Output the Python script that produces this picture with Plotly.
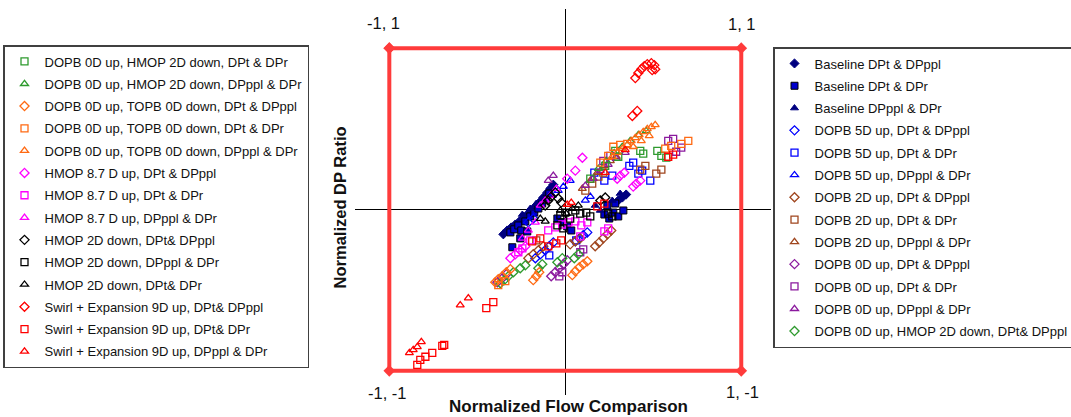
import plotly.graph_objects as go

# ---------------- data (normalized coordinates) ----------------
box_x = [-1, 1, 1, -1, -1]
box_y = [1, 1, -1, -1, 1]

base_dpppl_x = [-0.352, -0.330, -0.307, -0.284, -0.261, -0.239, -0.216, -0.193, -0.170, -0.148, -0.125, -0.102, -0.085, -0.068, 0.301, 0.324, 0.346]
base_dpppl_y = [-0.154, -0.130, -0.111, -0.093, -0.074, -0.056, -0.031, -0.006, 0.019, 0.043, 0.074, 0.105, 0.130, 0.154, 0.056, 0.074, 0.093]
base_dpr_x = [-0.312, -0.290, -0.267, -0.227, -0.199, -0.176, -0.153, -0.131, -0.108, -0.091, -0.250, -0.301, -0.256, -0.216, -0.045, -0.017, 0.011, 0.034, 0.222, 0.250, 0.273, 0.301, 0.330, 0.239, 0.284]
base_dpr_y = [-0.142, -0.123, -0.099, -0.074, -0.043, -0.019, 0.006, 0.037, 0.062, 0.099, -0.130, -0.234, -0.179, -0.136, -0.056, -0.080, -0.105, -0.130, -0.031, -0.056, -0.019, -0.043, -0.006, 0.025, 0.037]
base_pplr_x = [-0.244, -0.199, -0.165, -0.131, 0.170, 0.199, 0.267, 0.312]
base_pplr_y = [-0.031, 0.006, 0.037, 0.068, 0.025, -0.006, 0.056, 0.099]

d5_dpppl_x = [-0.170, -0.142, -0.114, -0.091, -0.068, 0.057, 0.080, 0.102, 0.125, -0.210, -0.182]
d5_dpppl_y = [-0.302, -0.278, -0.253, -0.228, -0.204, -0.197, -0.179, -0.160, -0.142, -0.080, -0.056]
d5_dpr_x = [0.222, 0.267, 0.364, 0.386, 0.415, 0.437, 0.483, -0.091, 0.062, 0.165]
d5_dpr_y = [0.179, 0.210, 0.271, 0.290, 0.222, 0.241, 0.179, -0.284, -0.191, 0.228]
d5_pplr_x = [-0.074, -0.040, -0.011, 0.028, 0.114, 0.142]
d5_pplr_y = [0.086, 0.117, 0.142, 0.179, 0.056, 0.080]

d2_dpppl_x = [-0.210, -0.182, -0.153, -0.125, 0.028, 0.057, 0.085, 0.170, 0.193, 0.216, 0.239, 0.261]
d2_dpppl_y = [-0.302, -0.278, -0.253, -0.228, -0.216, -0.197, -0.179, -0.228, -0.204, -0.179, -0.154, -0.130]
d2_dpr_x = [0.188, 0.216, 0.426, 0.455, 0.517, 0.546, 0.153, 0.114, -0.165]
d2_dpr_y = [0.204, 0.228, 0.247, 0.271, 0.222, 0.247, 0.160, 0.117, -0.191]
d2_pplr_x = [0.097, 0.142, 0.182, 0.222, 0.256, 0.290]
d2_pplr_y = [0.130, 0.179, 0.228, 0.271, 0.302, 0.327]

d0_dpppl_x = [-0.386, -0.358, -0.335, -0.080, -0.057, -0.034, -0.011, 0.011]
d0_dpppl_y = [-0.451, -0.426, -0.401, -0.414, -0.389, -0.364, -0.339, -0.315]
d0_dpr_x = [0.585, 0.613, 0.630, 0.659, 0.216, 0.256, -0.034, -0.017, 0.085, 0.102]
d0_dpr_y = [0.426, 0.438, 0.358, 0.383, 0.302, 0.333, -0.414, -0.389, -0.265, -0.247]
d0_pplr_x = [0.114, 0.159, 0.199, 0.244, 0.290, 0.341, -0.097, -0.068]
d0_pplr_y = [0.148, 0.191, 0.241, 0.278, 0.315, 0.352, 0.179, 0.210]

hm_dpppl_x = [-0.369, -0.347, -0.324, -0.295, -0.256, -0.227, -0.153, -0.131, -0.045, -0.017, 0.051, 0.074]
hm_dpppl_y = [-0.457, -0.438, -0.414, -0.389, -0.364, -0.346, -0.364, -0.339, -0.327, -0.302, -0.302, -0.278]
hm_dpr_x = [0.142, 0.227, 0.284, 0.301, 0.426, 0.443, 0.523, 0.546, 0.574]
hm_dpr_y = [0.191, 0.271, 0.364, 0.327, 0.364, 0.346, 0.364, 0.333, 0.321]
hm_pplr_x = [0.188, 0.233, 0.278, 0.324, 0.369, 0.415, 0.460]
hm_pplr_y = [0.253, 0.302, 0.352, 0.389, 0.426, 0.463, 0.488]

tp_dpppl_x = [-0.398, -0.381, -0.358, -0.335, -0.312, -0.182, -0.165, -0.148, 0.040, 0.057, 0.080, 0.102, 0.125]
tp_dpppl_y = [-0.451, -0.432, -0.414, -0.389, -0.370, -0.438, -0.414, -0.389, -0.407, -0.383, -0.358, -0.339, -0.321]
tp_dpr_x = [0.273, 0.312, 0.352, 0.568, 0.602, 0.659, 0.699, 0.244, 0.199, -0.381, -0.341]
tp_dpr_y = [0.389, 0.401, 0.407, 0.377, 0.395, 0.407, 0.426, 0.333, 0.290, -0.469, -0.444]
tp_pplr_x = [0.267, 0.295, 0.324, 0.352, 0.375, 0.398, 0.420, 0.443, 0.466, 0.489, 0.511, 0.386, 0.432, 0.477]
tp_pplr_y = [0.327, 0.352, 0.377, 0.401, 0.426, 0.444, 0.463, 0.481, 0.500, 0.512, 0.525, 0.389, 0.426, 0.457]

h87_dpppl_x = [0.011, 0.057, 0.097, 0.295, 0.312, 0.335, 0.386, 0.403, 0.426, -0.312, -0.284, -0.256, -0.227]
h87_dpppl_y = [0.191, 0.241, 0.321, 0.191, 0.210, 0.228, 0.142, 0.160, 0.179, -0.302, -0.278, -0.253, -0.228]
h87_dpr_x = [-0.097, -0.057, -0.017, 0.017, 0.057, 0.091, 0.125, 0.085, 0.222, 0.244, -0.199, -0.267, -0.244]
h87_dpr_y = [-0.130, -0.111, -0.093, -0.080, -0.074, -0.099, -0.080, -0.167, -0.136, -0.117, -0.191, -0.265, -0.241]
h87_pplr_x = [-0.142, -0.114, -0.085, -0.051, -0.170, -0.210, -0.244]
h87_pplr_y = [0.025, 0.056, 0.086, 0.130, -0.080, -0.130, -0.179]

h2_dpppl_x = [-0.114, -0.097, -0.080, -0.057, -0.040, -0.023, 0.199, 0.227]
h2_dpppl_y = [0.025, 0.056, 0.080, 0.105, 0.068, 0.043, 0.056, 0.074]
h2_pplr_x = [-0.028, 0.000, 0.028, 0.057, 0.085, 0.119, 0.142, 0.244, 0.267, -0.045, -0.011]
h2_pplr_y = [-0.037, -0.019, -0.056, -0.006, -0.025, -0.019, -0.043, -0.025, -0.043, -0.099, -0.117]
h2_dpr_x = [-0.028, 0.006, 0.040, 0.074, -0.142, -0.114]
h2_dpr_y = [-0.006, -0.025, 0.006, 0.025, -0.056, -0.074]

sw_dpppl_x = [0.398, 0.415, 0.432, 0.449, 0.466, 0.489, 0.506, 0.494, 0.511, 0.381, 0.409]
sw_dpppl_y = [0.815, 0.846, 0.870, 0.889, 0.901, 0.907, 0.895, 0.864, 0.870, 0.580, 0.611]
sw_dpr_x = [-0.841, -0.824, -0.795, -0.756, -0.699, -0.688, -0.449, -0.409, -0.188, -0.142, -0.097, -0.051, -0.023, 0.182, 0.222, 0.585, 0.613]
sw_dpr_y = [-0.963, -0.932, -0.913, -0.889, -0.845, -0.839, -0.611, -0.574, -0.197, -0.179, -0.228, -0.210, -0.191, 0.019, 0.037, 0.327, 0.340]
sw_pplr_x = [-0.886, -0.864, -0.841, -0.818, -0.597, -0.551, 0.011, 0.034, 0.227, 0.341]
sw_pplr_y = [-0.889, -0.870, -0.852, -0.821, -0.593, -0.549, 0.031, 0.043, 0.228, 0.370]

# ---------------- styling ----------------
FONT = "Liberation Sans, Arial, sans-serif"
NAVY, BLUE, BROWN, PURPLE = "#000080", "#0000FF", "#A0461E", "#8B1A9E"
GREEN, ORANGE, MAGENTA, BLACK, RED = "#2E9A2E", "#FF6A13", "#FF00FF", "#000000", "#FF0000"

series = [
    # (name, x, y, symbol, color, filled, legend)
    ("Baseline DPt & DPppl", base_dpppl_x, base_dpppl_y, "diamond", NAVY, True, "legend2"),
    ("Baseline DPt & DPr", base_dpr_x, base_dpr_y, "square", "#0000CC", True, "legend2"),
    ("Baseline DPppl & DPr", base_pplr_x, base_pplr_y, "triangle-up", NAVY, True, "legend2"),
    ("DOPB 5D up, DPt & DPppl", d5_dpppl_x, d5_dpppl_y, "diamond", BLUE, False, "legend2"),
    ("DOPB 5D up, DPt & DPr", d5_dpr_x, d5_dpr_y, "square", BLUE, False, "legend2"),
    ("DOPB 5D up, DPppl & DPr", d5_pplr_x, d5_pplr_y, "triangle-up", BLUE, False, "legend2"),
    ("DOPB 2D up, DPt & DPppl", d2_dpppl_x, d2_dpppl_y, "diamond", BROWN, False, "legend2"),
    ("DOPB 2D up, DPt & DPr", d2_dpr_x, d2_dpr_y, "square", BROWN, False, "legend2"),
    ("DOPB 2D up, DPppl & DPr", d2_pplr_x, d2_pplr_y, "triangle-up", BROWN, False, "legend2"),
    ("DOPB 0D up, DPt & DPppl", d0_dpppl_x, d0_dpppl_y, "diamond", PURPLE, False, "legend2"),
    ("DOPB 0D up, DPt & DPr", d0_dpr_x, d0_dpr_y, "square", PURPLE, False, "legend2"),
    ("DOPB 0D up, DPppl & DPr", d0_pplr_x, d0_pplr_y, "triangle-up", PURPLE, False, "legend2"),
    ("DOPB 0D up, HMOP 2D down, DPt& DPppl", hm_dpppl_x, hm_dpppl_y, "diamond", GREEN, False, "legend2"),
    ("DOPB 0D up, HMOP 2D down, DPt & DPr", hm_dpr_x, hm_dpr_y, "square", GREEN, False, "legend"),
    ("DOPB 0D up, HMOP 2D down, DPppl & DPr", hm_pplr_x, hm_pplr_y, "triangle-up", GREEN, False, "legend"),
    ("DOPB 0D up, TOPB 0D down, DPt & DPppl", tp_dpppl_x, tp_dpppl_y, "diamond", ORANGE, False, "legend"),
    ("DOPB 0D up, TOPB 0D down, DPt & DPr", tp_dpr_x, tp_dpr_y, "square", ORANGE, False, "legend"),
    ("DOPB 0D up, TOPB 0D down, DPppl & DPr", tp_pplr_x, tp_pplr_y, "triangle-up", ORANGE, False, "legend"),
    ("HMOP 8.7 D up, DPt & DPppl", h87_dpppl_x, h87_dpppl_y, "diamond", MAGENTA, False, "legend"),
    ("HMOP 8.7 D up, DPt & DPr", h87_dpr_x, h87_dpr_y, "square", MAGENTA, False, "legend"),
    ("HMOP 8.7 D up, DPppl & DPr", h87_pplr_x, h87_pplr_y, "triangle-up", MAGENTA, False, "legend"),
    ("HMOP 2D down, DPt& DPppl", h2_dpppl_x, h2_dpppl_y, "diamond", BLACK, False, "legend"),
    ("HMOP 2D down, DPppl & DPr", h2_pplr_x, h2_pplr_y, "square", BLACK, False, "legend"),
    ("HMOP 2D down, DPt& DPr", h2_dpr_x, h2_dpr_y, "triangle-up", BLACK, False, "legend"),
    ("Swirl + Expansion 9D up, DPt& DPppl", sw_dpppl_x, sw_dpppl_y, "diamond", RED, False, "legend"),
    ("Swirl + Expansion 9D up, DPt& DPr", sw_dpr_x, sw_dpr_y, "square", RED, False, "legend"),
    ("Swirl + Expansion 9D up, DPppl & DPr", sw_pplr_x, sw_pplr_y, "triangle-up", RED, False, "legend"),
]

fig = go.Figure()

# red bounding square with corner markers
fig.add_trace(go.Scatter(
    x=box_x, y=box_y, mode="lines+markers", showlegend=False, hoverinfo="skip",
    line=dict(color="#FF3B3B", width=4),
    marker=dict(symbol="diamond", size=9, color="#FF3B3B"), cliponaxis=False))

for i, (name, xs, ys, sym, col, filled, leg) in enumerate(series):
    if filled:
        line_col = "#000000" if sym == "square" else col
        marker = dict(symbol=sym, size=7, color=col, line=dict(color=line_col, width=1))
    else:
        marker = dict(symbol=sym + "-open", size=7, color=col, line=dict(color=col, width=1.3))
    fig.add_trace(go.Scatter(
        x=xs, y=ys, mode="markers", name=name, marker=marker,
        legend=leg, legendgroup="g%d" % i, cliponaxis=False))

W, H = 1071, 417
legend_common = dict(
    xref="container", yref="container", xanchor="left", yanchor="top",
    bordercolor="#404040", borderwidth=1.5, bgcolor="white",
    font=dict(family=FONT, size=13, color="#111111"),
    tracegroupgap=2.4, itemwidth=30, traceorder="grouped", maxheight=410)

fig.update_layout(
    width=W, height=H,
    margin=dict(l=355, r=300, t=9, b=22, autoexpand=False),
    paper_bgcolor="white", plot_bgcolor="white",
    font=dict(family=FONT, color="#111111"),
    xaxis=dict(range=[-1.195, 1.169], showgrid=False, zeroline=True, zerolinecolor="black",
               zerolinewidth=1, showticklabels=False, ticks="", showline=False, fixedrange=True),
    yaxis=dict(range=[-1.150, 1.243], showgrid=False, zeroline=True, zerolinecolor="black",
               zerolinewidth=1, showticklabels=False, ticks="", showline=False, fixedrange=True),
    legend=dict(x=3 / W, y=1 - 45 / H, **legend_common),
    legend2=dict(x=773 / W, y=1 - 47 / H, **legend_common),
    showlegend=True,
)

corner_font = dict(family=FONT, size=16.5, color="#111111")
for cx, cy, txt, xs, ys in [(-1, 1, "-1, 1", -6, 25), (1, 1, "1, 1", 1, 24),
                            (-1, -1, "-1, -1", -2, -22), (1, -1, "1, -1", 1, -21)]:
    fig.add_annotation(x=cx, y=cy, xref="x", yref="y", text=txt, showarrow=False,
                       xshift=xs, yshift=ys, font=corner_font)

fig.add_annotation(text="Normalized Flow Comparison", xref="paper", yref="paper",
                   x=0.514, y=-0.031, showarrow=False, xanchor="center", yanchor="middle",
                   font=dict(family=FONT, size=17, color="#111111", weight="bold"))
fig.add_annotation(text="Normalized DP Ratio", xref="paper", yref="paper",
                   x=-0.036, y=0.486, showarrow=False, textangle=-90,
                   xanchor="center", yanchor="middle",
                   font=dict(family=FONT, size=16.5, color="#111111", weight="bold"))

fig.write_html("out.html")
